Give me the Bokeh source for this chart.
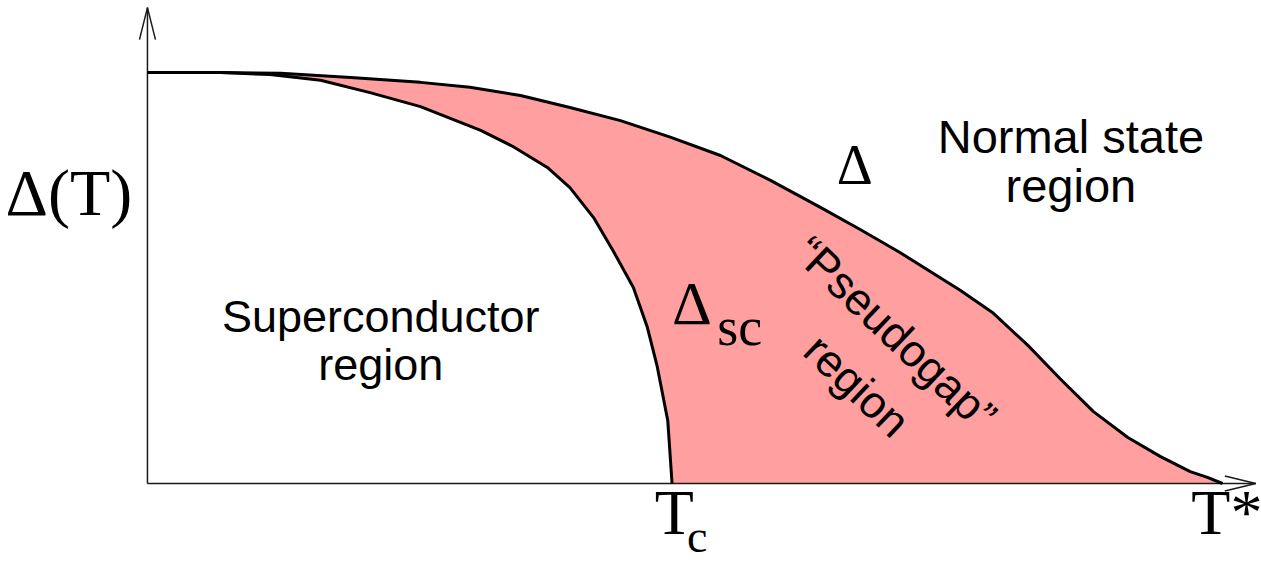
from bokeh.plotting import figure
from bokeh.models import Range1d
from bokeh.core.properties import value
from bokeh.embed import file_html
from bokeh.resources import INLINE

# Temperature in units of T*, gap in units of Delta(0)
t_gap = [0.0, 0.068, 0.124, 0.189, 0.254, 0.300, 0.347, 0.393, 0.440, 0.487,
         0.533, 0.580, 0.626, 0.663, 0.700, 0.756, 0.787, 0.819, 0.849, 0.880,
         0.912, 0.942, 0.970, 0.986, 1.0]
delta_gap = [1.0, 1.0, 0.998, 0.988, 0.976, 0.964, 0.944, 0.915, 0.883, 0.842,
             0.798, 0.737, 0.672, 0.618, 0.562, 0.470, 0.414, 0.336, 0.255,
             0.175, 0.112, 0.066, 0.029, 0.015, 0.0]

t_sc = [0.0, 0.068, 0.114, 0.161, 0.207, 0.254, 0.310, 0.340, 0.372, 0.393,
        0.415, 0.433, 0.452, 0.465, 0.474, 0.484, 0.488]
delta_sc = [1.0, 1.0, 0.995, 0.981, 0.951, 0.917, 0.859, 0.820, 0.769, 0.720,
            0.647, 0.567, 0.477, 0.380, 0.287, 0.153, 0.0]

T_AXIS_END = 1.031
D_AXIS_END = 1.158

W, H = 1261, 562
x_lo, x_hi = -0.1367, 1.0363
y_lo, y_hi = -0.1922, 1.1752
px_x = (x_hi - x_lo) / W   # data units per pixel
px_y = (y_hi - y_lo) / H

p = figure(width=W, height=H, output_backend="svg", toolbar_location=None,
           x_range=Range1d(x_lo, x_hi), y_range=Range1d(y_lo, y_hi),
           x_axis_location=None, y_axis_location=None, min_border=0,
           outline_line_color=None, background_fill_color="white")
p.grid.visible = False

# pseudogap region between the two gap curves
p.patch(t_gap + t_sc[::-1], delta_gap + delta_sc[::-1],
        fill_color="#ff9f9f", line_color=None)

# axes with open arrowheads
axis_col = "#1a1a1a"
p.line([0, 0], [0, D_AXIS_END], line_color=axis_col, line_width=1.5)
p.line([0, T_AXIS_END], [0, 0], line_color=axis_col, line_width=1.5)
p.multi_line(
    [[-8 * px_x, 0, 8 * px_x],
     [T_AXIS_END - 31 * px_x, T_AXIS_END, T_AXIS_END - 31 * px_x]],
    [[D_AXIS_END - 32 * px_y, D_AXIS_END, D_AXIS_END - 32 * px_y],
     [7.5 * px_y, 0, -7.5 * px_y]],
    line_color=axis_col, line_width=1.5)

# gap curves
p.line(t_gap, delta_gap, line_color="black", line_width=3, line_join="round")
p.line(t_sc, delta_sc, line_color="black", line_width=3, line_join="round")

serif = value("Liberation Serif")
sans = value("Liberation Sans")

p.text(x=[-0.132], y=[0.708], text=["Δ(T)"], text_font=serif,
       text_font_size="66px", text_align="left", text_baseline="alphabetic")
p.text(x=[0.490], y=[-0.071], text=["T"], text_font=serif,
       text_font_size="64px", text_align="center", text_baseline="alphabetic")
p.text(x=[0.502], y=[-0.130], text=["c"], text_font=serif,
       text_font_size="46px", text_align="left", text_baseline="alphabetic")
p.text(x=[0.971], y=[-0.071], text=["T*"], text_font=serif,
       text_font_size="64px", text_align="left", text_baseline="alphabetic")
p.text(x=[0.658], y=[0.776], text=["Δ"], text_font=serif,
       text_font_size="56px", text_align="center", text_baseline="alphabetic")
p.text(x=[0.488], y=[0.440], text=["Δ"], text_font=serif,
       text_font_size="62px", text_align="left", text_baseline="alphabetic")
p.text(x=[0.530], y=[0.382], text=["sc"], text_font=serif,
       text_font_size="54px", text_align="left", text_baseline="alphabetic")

p.text(x=[0.859, 0.859], y=[0.844, 0.725], text=["Normal state", "region"],
       text_font=sans, text_font_size="47px", text_align="center",
       text_baseline="alphabetic")
p.text(x=[0.217, 0.217], y=[0.406, 0.289], text=["Superconductor", "region"],
       text_font=sans, text_font_size="45px", text_align="center",
       text_baseline="alphabetic")
p.text(x=[0.696, 0.660], y=[0.365, 0.238], text=["“Pseudogap”", "region"],
       angle=-0.76, text_font=sans, text_font_size="45px",
       text_align="center", text_baseline="alphabetic")

open("out.html", "w").write(file_html(p, INLINE))
